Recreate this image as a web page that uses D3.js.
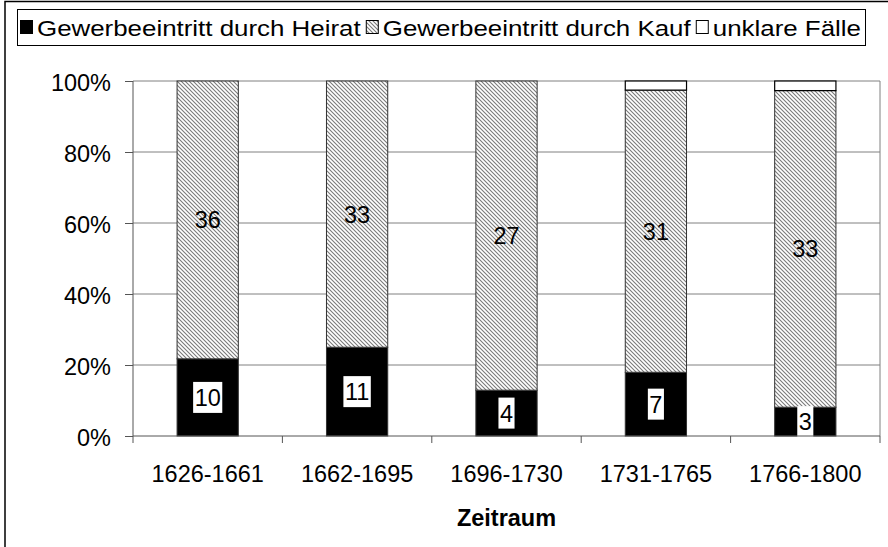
<!DOCTYPE html>
<html><head><meta charset="utf-8">
<script src="https://cdn.jsdelivr.net/npm/d3@7"></script>
<style>body{margin:0;background:#fff;} svg{display:block;} text{font-family:"Liberation Sans",Arial,sans-serif;}</style>
</head><body>
<svg id="c" width="888" height="547"></svg>
<script>
const categories = ["1626-1661","1662-1695","1696-1730","1731-1765","1766-1800"];
const heirat = [10, 11, 4, 7, 3];
const kauf = [36, 33, 27, 31, 33];
const unklar = [0, 0, 0, 1, 1];
const seriesNames = ["Gewerbeeintritt durch Heirat","Gewerbeeintritt durch Kauf","unklare Fälle"];
const yTicks = [0, 0.2, 0.4, 0.6, 0.8, 1.0];
const xTitle = "Zeitraum";

const FONT = "Liberation Sans, Arial, sans-serif";
const svg = d3.select("#c");
const defs = svg.append("defs");
const pat = defs.append("pattern").attr("id","hatch").attr("patternUnits","userSpaceOnUse")
  .attr("width",4).attr("height",4);
pat.append("rect").attr("width",4).attr("height",4).attr("fill","#fff");
pat.append("path").attr("d","M-1,-1 L5,5 M-1,3 L1,5 M3,-1 L5,1").attr("stroke","#7a7a7a").attr("stroke-width",1.1);

// outer frame
svg.append("rect").attr("x",5).attr("y",1.5).attr("width",900).attr("height",600)
  .attr("fill","none").attr("stroke","#000").attr("stroke-width",1.5);

const L=133, R=880, T=81, B=436;
const x = d3.scaleBand().domain(categories).range([L,R]).paddingInner(0.59).paddingOuter(0.295);
const y = d3.scaleLinear().domain([0,1]).range([B,T]);

const data = categories.map((c,i)=>{
  const tot = heirat[i]+kauf[i]+unklar[i];
  return {cat:c, h:heirat[i], k:kauf[i], u:unklar[i], tot};
});

// gridlines
svg.append("g").selectAll("line").data(yTicks.slice(1)).join("line")
  .attr("x1",L).attr("x2",R).attr("y1",d=>y(d)).attr("y2",d=>y(d))
  .attr("stroke","#808080").attr("stroke-width",1);
svg.append("line").attr("x1",R).attr("x2",R).attr("y1",T).attr("y2",B).attr("stroke","#808080");

// bars
const g = svg.append("g");
data.forEach(d=>{
  const x0 = x(d.cat), w = x.bandwidth();
  const p1 = d.h/d.tot, p2 = (d.h+d.k)/d.tot;
  g.append("rect").attr("x",x0).attr("width",w).attr("y",y(p1)).attr("height",y(0)-y(p1))
    .attr("fill","#000").attr("stroke","#333").attr("stroke-width",1);
  g.append("rect").attr("x",x0).attr("width",w).attr("y",y(p2)).attr("height",y(p1)-y(p2))
    .attr("fill","url(#hatch)").attr("stroke","#333").attr("stroke-width",1);
  if(d.u>0){
    g.append("rect").attr("x",x0).attr("width",w).attr("y",y(1)).attr("height",y(p2)-y(1))
      .attr("fill","#fff").attr("stroke","#000").attr("stroke-width",1.2);
  }
  const cx = x0+w/2;
  const hy = (y(0)+y(p1))/2;
  const ht = g.append("text").attr("x",cx).attr("y",hy+8.5).attr("text-anchor","middle")
    .attr("font-size",23.5).text(d.h);
  const bb = ht.node().getBBox();
  g.insert("rect", () => ht.node()).attr("x",bb.x-1.5).attr("y",hy-15.5).attr("width",bb.width+3).attr("height",31).attr("fill","#fff");
  g.append("text").attr("x",cx).attr("y",(y(p1)+y(p2))/2+8.5).attr("text-anchor","middle")
    .attr("font-size",23.5).text(d.k);
});

// y axis
const ya = svg.append("g").attr("transform",`translate(${L},0)`)
  .call(d3.axisLeft(y).tickValues(yTicks).tickFormat(d3.format(".0%")).tickSize(8).tickPadding(14));
ya.select(".domain").attr("stroke","#555").attr("d",`M0,${T}V${B}`);
ya.selectAll(".tick line").attr("stroke","#555");
ya.selectAll("text").attr("font-size",23.5).attr("fill","#000").attr("font-family",FONT).attr("dy","0.42em");

// x axis
const xa = svg.append("g").attr("transform",`translate(0,${B})`)
  .call(d3.axisBottom(x).tickSize(0).tickPadding(29));
xa.select(".domain").attr("stroke","#555").attr("d",`M${L},0H${R}`);
xa.selectAll("text").attr("font-size",23.5).attr("fill","#000").attr("font-family",FONT);
const step = x.step();
const bounds = d3.range(categories.length+1).map(i=>L+i*step);
xa.selectAll(".bt").data(bounds).join("line").attr("class","bt")
  .attr("x1",d=>d).attr("x2",d=>d).attr("y1",0).attr("y2",7).attr("stroke","#555");

svg.append("text").attr("x",(L+R)/2).attr("y",526).attr("text-anchor","middle")
  .attr("font-size",23.5).attr("font-weight","bold").text(xTitle);

// legend
const lg = svg.append("g");
lg.append("rect").attr("x",17.5).attr("y",9.5).attr("width",848).attr("height",36)
  .attr("fill","#fff").attr("stroke","#000").attr("stroke-width",1);
const fills = ["#000","url(#hatch)","#fff"];
const items = seriesNames.map((n,i)=>{
  const gi = lg.append("g");
  const t = gi.append("text").attr("x",0).attr("y",0).attr("font-size",22).text(n);
  return {gi, t, w: t.node().getComputedTextLength(), i};
});
const mk = 13, mgap = 4, igap = 5;
const start = 20, end = 861;
const natural = d3.sum(items, d=>d.w);
const s = (end - start - items.length*(mk+mgap) - (items.length-1)*igap) / natural;
let lx = start;
items.forEach(it=>{
  lg.append("rect").attr("x",lx+0.5).attr("y",20.5).attr("width",mk-1).attr("height",mk)
    .attr("fill",fills[it.i]).attr("stroke","#000").attr("stroke-width",1);
  it.gi.attr("transform",`translate(${lx+mk+mgap},36) scale(${s},1)`);
  lx += mk + mgap + it.w*s + igap;
});
</script>
</body></html>
